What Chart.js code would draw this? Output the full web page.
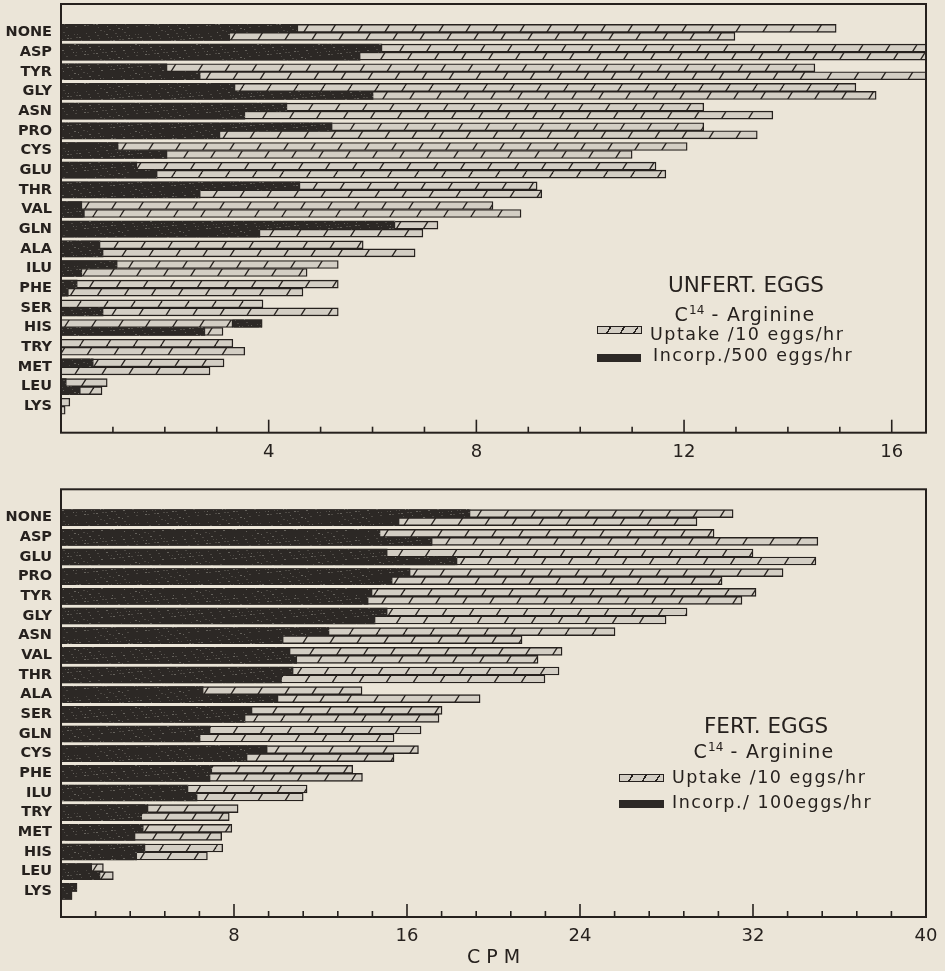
<!DOCTYPE html>
<html>
<head>
<meta charset="utf-8">
<script src="https://cdn.jsdelivr.net/npm/chart.js@4.4.1/dist/chart.umd.min.js"></script>
<style>
html,body{margin:0;padding:0;background:#ebe5d8;}
#wrap{position:relative;width:945px;height:971px;overflow:hidden;font-family:'DejaVu Sans',sans-serif;color:#26211e;}
canvas{position:absolute;left:0;}
#c1{top:0;width:945px;height:480px;}
#c2{top:460px;width:945px;height:511px;}
.lg{position:absolute;white-space:nowrap;line-height:1;transform:translateY(-50%);}
.ctr{transform:translate(-50%,-50%);}
.ttl{font-size:21.5px;}
.sub{font-size:19px;letter-spacing:1.2px;}
.sub sup{font-size:12px;vertical-align:7px;letter-spacing:0;}
.itm{font-size:17.5px;letter-spacing:1.5px;}
.sw{position:absolute;box-sizing:border-box;}
.hat{border:1.5px solid #26211e;background:repeating-linear-gradient(122deg,#d3cec4 0px,#d3cec4 10px,#26211e 10px,#26211e 11.5px);}
.drk{background:#2c2825;}
</style>
</head>
<body>
<div id="wrap">
<canvas id="c1" width="945" height="480"></canvas>
<canvas id="c2" width="945" height="511"></canvas>

<div class="lg ctr ttl" style="left:746px;top:285px;">UNFERT. EGGS</div>
<div class="lg ctr sub" style="left:745px;top:314px;">C<sup>14</sup> - Arginine</div>
<div class="sw hat" style="left:597px;top:326px;width:45px;height:8px;"></div>
<div class="lg itm" style="left:650px;top:335px;">Uptake /10 eggs/hr</div>
<div class="sw drk" style="left:597px;top:354px;width:44px;height:8px;"></div>
<div class="lg itm" style="left:653px;top:356px;">Incorp./500 eggs/hr</div>

<div class="lg ctr ttl" style="left:766px;top:726px;">FERT. EGGS</div>
<div class="lg ctr sub" style="left:764px;top:751px;">C<sup>14</sup> - Arginine</div>
<div class="sw hat" style="left:619px;top:774px;width:45px;height:8px;"></div>
<div class="lg itm" style="left:672px;top:778px;">Uptake /10 eggs/hr</div>
<div class="sw drk" style="left:619px;top:800px;width:45px;height:8px;"></div>
<div class="lg itm" style="left:672px;top:803px;">Incorp./ 100eggs/hr</div>
</div>

<script>
// ---------- DATA ----------
const unfertLabels = ['NONE','ASP','TYR','GLY','ASN','PRO','CYS','GLU','THR','VAL','GLN','ALA','ILU','PHE','SER','HIS','TRY','MET','LEU','LYS'];
// total uptake (upper replicate / lower replicate), CPM
const unfertUptakeA = [14.93,17.5,14.52,15.31,12.38,12.38,12.06,11.46,9.17,8.32,7.26,5.82,5.34,5.34,3.89,3.31,3.31,3.14,0.89,0.17];
const unfertUptakeB = [12.98,17.5,17.2,15.70,13.71,13.41,11.0,11.65,9.26,8.86,6.97,6.82,4.74,4.66,5.34,3.12,3.54,2.87,0.79,0.08];
// incorporation (dark part); HIS upper replicate is drawn beyond the uptake bar
const unfertIncorpA = [4.56,6.18,2.04,3.35,4.35,5.22,1.10,1.46,4.6,0.4,6.43,0.75,1.08,0.31,0,[3.31,3.87],0,0.62,0.1,0];
const unfertIncorpB = [3.25,5.76,2.68,6.01,3.54,3.06,2.04,1.85,2.68,0.45,3.83,0.81,0.4,0.14,0.81,2.77,0,0,0.37,0];

const fertLabels = ['NONE','ASP','GLU','PRO','TYR','GLY','ASN','VAL','THR','ALA','SER','GLN','CYS','PHE','ILU','TRY','MET','HIS','LEU','LYS'];
const fertUptakeA = [31.08,30.2,32.0,33.39,32.14,28.95,25.62,23.17,23.03,13.92,17.62,16.65,16.53,13.49,11.38,8.19,7.9,7.48,1.96,0.73];
const fertUptakeB = [29.41,35.0,34.91,30.57,31.49,27.98,21.32,22.06,22.38,19.38,17.48,15.4,15.4,13.94,11.2,7.78,7.43,6.77,2.42,0.5];
const fertIncorpA = [18.91,14.75,15.08,16.14,14.38,15.08,12.39,10.59,10.73,6.57,8.83,6.89,9.53,6.97,5.87,4.02,3.8,3.88,1.42,0.73];
const fertIncorpB = [15.63,17.16,18.31,15.31,14.2,14.52,10.27,10.9,10.2,10.03,8.51,6.43,8.6,6.89,6.29,3.73,3.42,3.5,1.8,0.5];

const unfertTicks = {max:16.66, step:1, major:4};
const fertTicks = {max:40, step:1.6, major:8};

// ---------- STYLE ----------
const INK = '#26211e';
const DARK = '#2c2825';
const BRICK = '#d3cec4';
Chart.defaults.font.family = "'DejaVu Sans', sans-serif";
Chart.defaults.color = INK;

function hatch(ctx, shift){
  const W = 27, H = 43;
  const c = document.createElement('canvas'); c.width = W; c.height = H;
  const g = c.getContext('2d');
  g.fillStyle = BRICK; g.fillRect(0,0,W,H);
  g.strokeStyle = INK; g.lineWidth = 1.3;
  for (const dx of [-W,0,W]) { g.beginPath(); g.moveTo(dx,H); g.lineTo(dx+W,0); g.stroke(); }
  const p = ctx.createPattern(c,'repeat');
  p.setTransform(new DOMMatrix().translate(shift,0));
  return p;
}

// printed-ink texture for the dark bars (deterministic speckle)
function speckle(ctx){
  const W = 61, H = 29;
  const c = document.createElement('canvas'); c.width = W; c.height = H;
  const g = c.getContext('2d');
  g.fillStyle = DARK; g.fillRect(0,0,W,H);
  for (let k = 0; k < 70; k++){
    const x = (k * 37) % W, y = (k * 17 + (k >> 2) * 5) % H;
    g.fillStyle = (k % 3 === 0) ? 'rgba(150,145,138,0.55)' : 'rgba(110,105,99,0.5)';
    g.fillRect(x, y, 1 + (k % 2), 1);
  }
  return ctx.createPattern(c,'repeat');
}

const pts = arr => arr.map((v,i) => ({x:v, y:i}));

const framePlugin = {
  id:'frameTicks',
  afterDraw(chart, args, opts){
    const {ctx, chartArea:a, scales:{x}} = chart;
    ctx.save();
    ctx.strokeStyle = INK;
    ctx.lineWidth = 1.6;
    for (const t of x.ticks){
      const v = t.value;
      if (v <= 1e-6 || v >= x.max - 1e-6) continue;
      const px = x.getPixelForValue(v);
      const q = v / opts.major;
      const major = Math.abs(q - Math.round(q)) < 1e-6;
      const len = major ? 13 : 6;
      ctx.beginPath(); ctx.moveTo(px, a.bottom); ctx.lineTo(px, a.bottom - len); ctx.stroke();
    }
    ctx.lineWidth = 2;
    ctx.strokeRect(a.left, a.top, a.right - a.left, a.bottom - a.top);
    ctx.restore();
  }
};

function makeChart(id, labels, upA, upB, inA, inB, tk, opt){
  const el = document.getElementById(id);
  const ctx = el.getContext('2d');
  const dark = speckle(ctx);
  return new Chart(ctx, {
    type:'bar',
    data:{datasets:[
      {label:'Incorp A', data:pts(inA), stack:'a', backgroundColor:dark, borderWidth:0},
      {label:'Incorp B', data:pts(inB), stack:'b', backgroundColor:dark, borderWidth:0},
      {label:'Uptake A', data:pts(upA), stack:'a', backgroundColor:hatch(ctx,0), borderColor:INK, borderWidth:1.4, borderSkipped:'start'},
      {label:'Uptake B', data:pts(upB), stack:'b', backgroundColor:hatch(ctx,13), borderColor:INK, borderWidth:1.4, borderSkipped:'start'}
    ]},
    options:{
      indexAxis:'y',
      responsive:false,
      animation:false,
      devicePixelRatio:1,
      datasets:{bar:{barThickness:8}},
      layout:{padding:{top:opt.top, right:19, left:0, bottom:0}},
      plugins:{legend:{display:false}, tooltip:{enabled:false}, frameTicks:{major:tk.major}},
      scales:{
        x:{
          type:'linear', min:0, max:tk.max, stacked:false,
          grid:{display:false, drawTicks:false}, border:{display:false},
          ticks:{stepSize:tk.step, includeBounds:false, autoSkip:false, maxRotation:0, padding:8.7,
            font:{size:18}, color:INK,
            callback:(v)=>{ const r=Math.round(v); return (Math.abs(v-r)<1e-6 && r>0 && r%tk.major===0) ? String(r) : ''; }},
          title:opt.title ? {display:true, text:opt.title, font:{size:19}, color:INK, padding:{top:0,bottom:2}} : {display:false},
          afterFit:(s)=>{ s.height = opt.xh; s.paddingLeft = 0; s.paddingRight = 0; }
        },
        y:{
          type:'linear', reverse:true, min:-0.9, max:opt.ymax,
          grid:{display:false, drawTicks:false}, border:{display:false},
          ticks:{stepSize:1, includeBounds:false, autoSkip:false, padding:9,
            font:{size:14.5, weight:'bold'}, color:INK,
            callback:(v)=>{ const r=Math.round(v); return (Math.abs(v-r)<1e-6 && labels[r]) ? labels[r] : ''; }},
          afterFit:(s)=>{ s.width = 61; s.paddingTop = 0; s.paddingBottom = 0; }
        }
      }
    },
    plugins:[framePlugin]
  });
}

makeChart('c1', unfertLabels, unfertUptakeA, unfertUptakeB, unfertIncorpA, unfertIncorpB, unfertTicks,
  {top:4, xh:47.3, ymax:19.8, title:null});
makeChart('c2', fertLabels, fertUptakeA, fertUptakeB, fertIncorpA, fertIncorpB, fertTicks,
  {top:29.3, xh:54, ymax:19.76, title:'C P M'});
</script>
</body>
</html>
